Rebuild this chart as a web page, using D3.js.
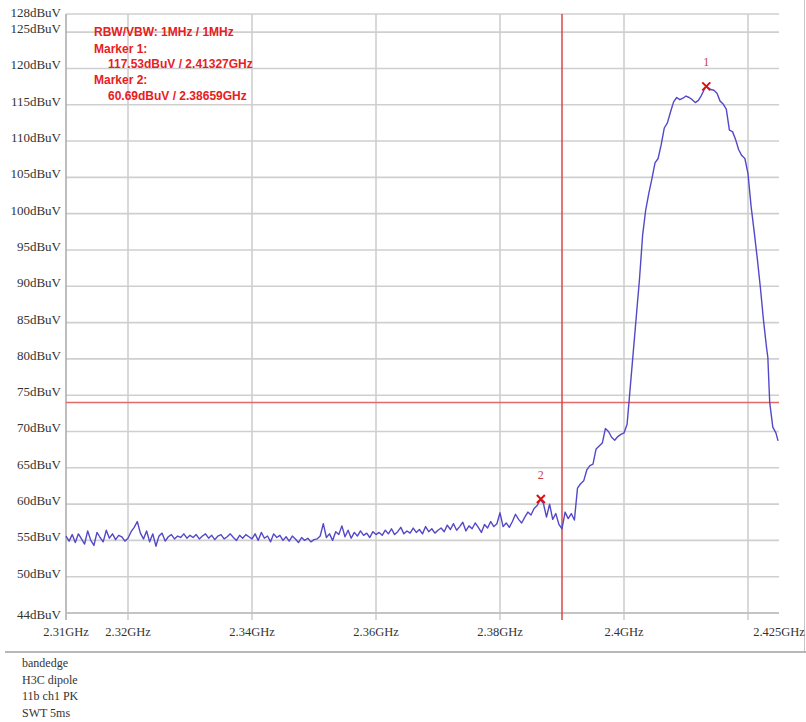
<!DOCTYPE html>
<html>
<head>
<meta charset="utf-8">
<script src="https://cdn.jsdelivr.net/npm/d3@7/dist/d3.min.js"></script>
<style>
  html, body { margin: 0; padding: 0; background: #fff; }
  svg { display: block; }
</style>
</head>
<body>
<svg id="chart" width="806" height="722"></svg>
<script>
// ---------------- DATA ----------------
const xDomainGHz = [2.310, 2.425];
const yDomainDb = [45, 127.5];
const xGridGHz = [2.32, 2.34, 2.36, 2.38, 2.40, 2.42];
const xTickLabels = [
  [2.310, "2.31GHz"], [2.320, "2.32GHz"], [2.340, "2.34GHz"], [2.360, "2.36GHz"],
  [2.380, "2.38GHz"], [2.400, "2.4GHz"], [2.425, "2.425GHz"]
];
const yGridDb = [50, 55, 60, 65, 70, 75, 80, 85, 90, 95, 100, 105, 110, 115, 120, 125];
const yEdgeLabels = ["44dBuV", "128dBuV"];

// noise floor sweep, 0.5 MHz per sample from 2.310 GHz
const noiseStartGHz = 2.310;
const noiseStepGHz = 0.0005;
const noiseLevels = [
  55.6, 54.9, 55.8, 54.7, 55.9, 55.2, 54.5, 56.3, 55.0, 54.3,
  56.1, 55.4, 54.8, 56.4, 55.3, 55.9, 55.1, 55.7, 55.5, 54.9,
  55.3, 56.2, 56.8, 57.6, 56.0, 55.2, 56.3, 54.8, 55.9, 54.2,
  55.6, 56.0, 54.9, 55.5, 55.8, 55.2, 55.6, 55.4, 55.9, 55.3,
  55.7, 55.4, 55.8, 55.2, 55.6, 55.9, 55.3, 55.7, 55.1, 55.6,
  55.8, 55.2, 55.5, 55.9, 55.4, 55.0, 55.7, 55.3, 55.8, 55.5,
  55.2, 55.9, 55.0, 56.1, 55.3, 55.6, 54.8, 55.9, 55.4, 55.7,
  55.0, 55.5, 54.9, 55.6, 55.2, 54.7, 55.4, 55.0, 55.3, 54.8,
  55.1, 55.2, 55.6, 57.3, 55.4, 55.9, 55.0, 56.2, 55.8, 57.0,
  55.5, 56.4, 55.3, 56.1, 55.6, 56.3, 55.7, 56.0, 55.4, 56.2,
  55.8, 56.1, 55.7, 56.4, 55.9, 56.6, 55.8, 56.2, 56.8, 55.9,
  56.3, 56.0, 56.7, 56.1, 56.5, 55.9, 56.9, 56.2, 56.6, 56.0,
  56.4, 56.7, 56.2, 57.1, 56.5, 57.3, 56.4, 56.9, 57.5, 56.3,
  57.0, 56.6, 57.4, 56.8, 56.1, 57.2, 56.7, 57.6, 56.9, 57.3,
  58.8, 56.9, 57.4, 56.8, 57.6, 58.6, 57.9, 57.4, 58.2, 58.9,
  58.5, 59.4, 59.8, 60.6, 60.1, 58.2, 60.0, 57.9, 58.7, 57.2,
  56.6
];

// in-band emission, explicit frequency / level pairs
const bandFreqs = [
  2.3905, 2.3910, 2.3915, 2.3920, 2.3925, 2.3930, 2.3935, 2.3940, 2.3945, 2.3950,
  2.3955, 2.3960, 2.3965, 2.3970, 2.3975, 2.3980, 2.3985, 2.3990, 2.3995, 2.4000,
  2.4005, 2.4010, 2.4015, 2.4020, 2.4025, 2.4030, 2.4035, 2.4040, 2.4045, 2.4050,
  2.4055, 2.4060, 2.4065, 2.4070, 2.4075, 2.4080, 2.4085, 2.4090, 2.4095, 2.4100,
  2.4105, 2.4110, 2.4115, 2.4120, 2.4125, 2.4130, 2.41327, 2.4135, 2.4140, 2.4145,
  2.4150, 2.4155, 2.4160, 2.4165, 2.4170, 2.4175, 2.4180, 2.4185, 2.4190, 2.4195,
  2.4200, 2.4205, 2.4210, 2.4215, 2.4220, 2.4225, 2.4230, 2.4232, 2.4235, 2.4240,
  2.4245, 2.42485
];
const bandLevels = [
  58.9, 58.0, 58.7, 57.8, 62.2, 62.8, 63.2, 64.7, 65.3, 65.5,
  67.6, 68.0, 68.4, 70.4, 70.0, 69.2, 68.8, 69.3, 69.6, 69.8,
  71.0, 76.0, 81.0, 86.0, 91.0, 97.0, 100.5, 102.8, 104.8, 107.0,
  107.6, 109.5, 111.8, 112.5, 114.0, 115.4, 116.0, 115.7, 115.9, 116.2,
  116.0, 115.7, 115.3, 115.6, 116.3, 117.2, 117.53, 117.4, 117.1, 117.0,
  116.6, 115.5, 115.1, 114.4, 111.5, 111.3, 110.2, 108.8, 108.0, 107.6,
  105.5, 101.0, 97.5, 93.8, 89.8, 85.3, 81.5, 80.2, 74.0, 70.6,
  69.8, 68.7
];

const markerNames = ["1", "2"];
const markerFreqs = [2.41327, 2.38659];
const markerLevels = [117.53, 60.69];

const limitLevelDb = 74;
const bandEdgeGHz = 2.39;

const infoLines = [
  ["RBW/VBW: 1MHz / 1MHz", 0],
  ["Marker 1:", 0],
  ["117.53dBuV / 2.41327GHz", 1],
  ["Marker 2:", 0],
  ["60.69dBuV / 2.38659GHz", 1]
];
const footerLines = ["bandedge", "H3C dipole", "11b ch1 PK", "SWT 5ms"];

// ---------------- DRAW ----------------
const svg = d3.select("#chart");
const plot = { left: 66, right: 779, top: 14, bottom: 613 };

const x = d3.scaleLinear().domain(xDomainGHz).range([plot.left, plot.right]);
const y = d3.scaleLinear().domain(yDomainDb).range([plot.bottom, plot.top]);

const serif = "'Liberation Serif', 'DejaVu Serif', serif";
const sans = "'Liberation Sans', Arial, sans-serif";

// outer frame line on right
svg.append("line").attr("x1", 804.5).attr("x2", 804.5).attr("y1", 0).attr("y2", 652)
  .attr("stroke", "#c8c8c8").attr("stroke-width", 1);

// horizontal grid
const gridColor = "#cfcfcf";
svg.append("g").selectAll("line").data(yGridDb.concat(yDomainDb)).join("line")
  .attr("x1", plot.left).attr("x2", plot.right)
  .attr("y1", d => y(d)).attr("y2", d => y(d))
  .attr("stroke", gridColor).attr("stroke-width", 1.6);

// vertical grid + ticks
svg.append("g").selectAll("line").data(xGridGHz).join("line")
  .attr("x1", d => x(d)).attr("x2", d => x(d))
  .attr("y1", plot.top).attr("y2", plot.bottom + 7)
  .attr("stroke", gridColor).attr("stroke-width", 1.6);

// left axis line
svg.append("line").attr("x1", plot.left).attr("x2", plot.left)
  .attr("y1", plot.top).attr("y2", plot.bottom + 7)
  .attr("stroke", "#a8a8a8").attr("stroke-width", 1.5);
// bottom axis line
svg.append("line").attr("x1", plot.left).attr("x2", plot.right)
  .attr("y1", plot.bottom).attr("y2", plot.bottom)
  .attr("stroke", "#bdbdbd").attr("stroke-width", 1.5);

// y labels
svg.append("g").selectAll("text").data(yGridDb).join("text")
  .attr("x", 61).attr("y", d => y(d) + 1)
  .attr("text-anchor", "end")
  .attr("font-family", serif).attr("font-size", 13).attr("fill", "#333")
  .text(d => d + "dBuV");
svg.append("g").selectAll("text").data(yEdgeLabels).join("text")
  .attr("x", 61).attr("y", (d, i) => y(yDomainDb[i]) + (i === 0 ? 6 : 3))
  .attr("text-anchor", "end")
  .attr("font-family", serif).attr("font-size", 13).attr("fill", "#333")
  .text(d => d);

// x labels
svg.append("g").selectAll("text").data(xTickLabels).join("text")
  .attr("x", d => x(d[0])).attr("y", 636)
  .attr("text-anchor", "middle")
  .attr("font-family", serif).attr("font-size", 12.5).attr("fill", "#333")
  .text(d => d[1]);

// limit line and band-edge line
svg.append("line").attr("x1", plot.left).attr("x2", plot.right)
  .attr("y1", y(limitLevelDb)).attr("y2", y(limitLevelDb))
  .attr("stroke", "#e46a6a").attr("stroke-width", 1.6);
svg.append("line").attr("x1", x(bandEdgeGHz)).attr("x2", x(bandEdgeGHz))
  .attr("y1", plot.top).attr("y2", plot.bottom + 7)
  .attr("stroke", "#d84848").attr("stroke-width", 1.5);

// trace
const trace = noiseLevels.map((v, i) => [noiseStartGHz + i * noiseStepGHz, v])
  .concat(bandFreqs.map((f, i) => [f, bandLevels[i]]));
const line = d3.line().x(d => x(d[0])).y(d => y(d[1]));
svg.append("path").datum(trace)
  .attr("d", line)
  .attr("fill", "none").attr("stroke", "#5448c8").attr("stroke-width", 1.4)
  .attr("stroke-linejoin", "round");

// markers
const markers = markerNames.map((n, i) => ({ n, f: markerFreqs[i], v: markerLevels[i] }));
const mg = svg.append("g").selectAll("g").data(markers).join("g")
  .attr("transform", d => `translate(${x(d.f)},${y(d.v)})`);
mg.append("path").attr("d", "M-4,-4L4,4M-4,4L4,-4")
  .attr("stroke", "#e01010").attr("stroke-width", 2).attr("fill", "none");
mg.append("text").attr("x", 0).attr("y", -20)
  .attr("text-anchor", "middle")
  .attr("font-family", serif).attr("font-size", 12).attr("fill", "#c84040")
  .text(d => d.n);

// info text
const infoY = [32, 48.5, 63.5, 80, 96];
svg.append("g").selectAll("text").data(infoLines).join("text")
  .attr("x", d => d[1] ? 108 : 94)
  .attr("y", (d, i) => infoY[i] + 4)
  .attr("font-family", sans).attr("font-weight", "bold").attr("font-size", 12)
  .attr("fill", "#e82020")
  .text(d => d[0]);

// separator
svg.append("line").attr("x1", 5).attr("x2", 806).attr("y1", 652).attr("y2", 652)
  .attr("stroke", "#a0a0a0").attr("stroke-width", 1.5);

// footer
svg.append("g").selectAll("text").data(footerLines).join("text")
  .attr("x", 22).attr("y", (d, i) => 667 + i * 16.5)
  .attr("font-family", serif).attr("font-size", 12).attr("fill", "#333")
  .text(d => d);
</script>
</body>
</html>
